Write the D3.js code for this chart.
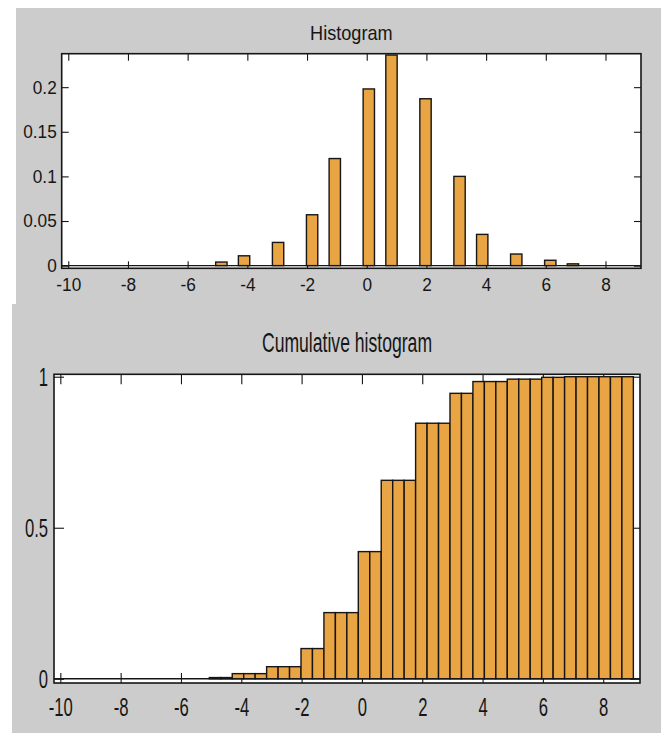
<!DOCTYPE html>
<html>
<head>
<meta charset="utf-8">
<script src="https://cdn.jsdelivr.net/npm/d3@7"></script>
<style>
  body { margin: 0; background: #fff; }
  svg { display: block; font-family: "Liberation Sans", Arial, sans-serif; }
</style>
</head>
<body>
<div id="chart"></div>
<script>
// bin centres of the 50 histogram bins (width 0.38, from -10 to 9)
const binCenters = [
  -9.81, -9.43, -9.05, -8.67, -8.29, -7.91, -7.53, -7.15, -6.77, -6.39,
  -6.01, -5.63, -5.25, -4.87, -4.49, -4.11, -3.73, -3.35, -2.97, -2.59,
  -2.21, -1.83, -1.45, -1.07, -0.69, -0.31, 0.07, 0.45, 0.83, 1.21,
  1.59, 1.97, 2.35, 2.73, 3.11, 3.49, 3.87, 4.25, 4.63, 5.01,
  5.39, 5.77, 6.15, 6.53, 6.91, 7.29, 7.67, 8.05, 8.43, 8.81
];
const binWidth = 0.38;

const frequency = [
  0, 0, 0, 0, 0, 0, 0, 0, 0, 0,
  0, 0, 0, 0.004, 0, 0.011, 0, 0, 0.026, 0,
  0, 0.057, 0, 0.12, 0, 0, 0.198, 0, 0.236, 0,
  0, 0.187, 0, 0, 0.1, 0, 0.035, 0, 0, 0.013,
  0, 0, 0.006, 0, 0.002, 0, 0, 0, 0, 0
];

const cumulative = [
  0, 0, 0, 0, 0, 0, 0, 0, 0, 0,
  0, 0, 0, 0.004, 0.004, 0.017, 0.017, 0.017, 0.04, 0.04,
  0.04, 0.1, 0.1, 0.219, 0.219, 0.219, 0.421, 0.421, 0.657, 0.657,
  0.657, 0.846, 0.846, 0.846, 0.945, 0.945, 0.984, 0.984, 0.984, 0.992,
  0.992, 0.992, 0.998, 0.998, 1, 1, 1, 1, 1, 1
];

const xTicks = [-10, -8, -6, -4, -2, 0, 2, 4, 6, 8];
const histYTicks = [0, 0.05, 0.1, 0.15, 0.2];
const cumYTicks = [0, 0.5, 1];

const W = 661, H = 733;
const barFill = '#e9a443';
const ink = '#161616';

const svg = d3.select('#chart').append('svg')
  .attr('width', W)
  .attr('height', H)
  .attr('viewBox', `0 0 ${W} ${H}`);

function drawPanel(cfg) {
  const { panel, box, values, xDomain, yDomain, yTicks, title, fontSize, titleSize, sx, tickLen, xPad, yPad, titleY } = cfg;

  svg.append('rect')
    .attr('x', panel.x).attr('y', panel.y)
    .attr('width', panel.w).attr('height', panel.h)
    .attr('fill', '#cccccc');

  svg.append('rect')
    .attr('x', box.left).attr('y', box.top)
    .attr('width', box.right - box.left).attr('height', box.bottom - box.top)
    .attr('fill', '#fff');

  const x = d3.scaleLinear().domain(xDomain).range([box.left, box.right]);
  const y = d3.scaleLinear().domain(yDomain).range([box.bottom, box.top]);

  const styleAxis = (g) => {
    g.attr('font-family', null).attr('font-size', null);
    g.select('.domain').remove();
    g.selectAll('.tick line').attr('stroke', ink).attr('stroke-width', 1.1);
    g.selectAll('.tick text')
      .attr('fill', ink)
      .attr('font-size', fontSize)
      .attr('transform', `scale(${sx},1)`);
  };

  // ticks sit underneath the bars (MATLAB layer bottom)
  svg.append('g')
    .attr('transform', `translate(0,${box.bottom})`)
    .call(d3.axisBottom(x).tickValues(xTicks).tickSizeInner(-tickLen).tickSizeOuter(0)
      .tickPadding(xPad).tickFormat((d) => String(d)))
    .call(styleAxis);

  svg.append('g')
    .attr('transform', `translate(0,${box.top})`)
    .call(d3.axisTop(x).tickValues(xTicks).tickSizeInner(-tickLen).tickSizeOuter(0).tickFormat(''))
    .call(styleAxis);

  svg.append('g')
    .attr('transform', `translate(${box.left},0)`)
    .call(d3.axisLeft(y).tickValues(yTicks).tickSizeInner(-tickLen).tickSizeOuter(0)
      .tickPadding(yPad).tickFormat((d) => String(d)))
    .call(styleAxis)
    .call((g) => g.selectAll('.tick text').attr('x', -yPad / sx));

  svg.append('g')
    .attr('transform', `translate(${box.right},0)`)
    .call(d3.axisRight(y).tickValues(yTicks).tickSizeInner(-tickLen).tickSizeOuter(0).tickFormat(''))
    .call(styleAxis);

  svg.append('g')
    .selectAll('rect')
    .data(values.map((v, i) => ({ c: binCenters[i], v })))
    .join('rect')
    .attr('x', (d) => x(d.c - binWidth / 2))
    .attr('width', (d) => x(d.c + binWidth / 2) - x(d.c - binWidth / 2))
    .attr('y', (d) => y(d.v))
    .attr('height', (d) => y(0) - y(d.v))
    .attr('fill', barFill)
    .attr('stroke', ink)
    .attr('stroke-width', 1.4);

  // bar baseline at zero
  svg.append('line')
    .attr('x1', box.left).attr('x2', box.right)
    .attr('y1', y(0)).attr('y2', y(0))
    .attr('stroke', ink)
    .attr('stroke-width', 1.4);

  svg.append('rect')
    .attr('x', box.left).attr('y', box.top)
    .attr('width', box.right - box.left).attr('height', box.bottom - box.top)
    .attr('fill', 'none')
    .attr('stroke', ink)
    .attr('stroke-width', 1.6);

  svg.append('text')
    .attr('transform', `translate(${(box.left + box.right) / 2},${titleY}) scale(${sx},1)`)
    .attr('text-anchor', 'middle')
    .attr('font-size', titleSize)
    .attr('fill', ink)
    .text(title);
}

drawPanel({
  panel: { x: 16, y: 8, w: 645, h: 296 },
  box: { left: 61.7, right: 641, top: 53.7, bottom: 268.3 },
  values: frequency,
  xDomain: [-10.22, 9.19],
  yDomain: [-0.003, 0.2375],
  yTicks: histYTicks,
  title: 'Histogram',
  fontSize: 18.5,
  titleSize: 19.5,
  sx: 0.93,
  tickLen: 7,
  xPad: 10,
  yPad: 5,
  titleY: 39.5
});

drawPanel({
  panel: { x: 12, y: 304, w: 649, h: 429 },
  box: { left: 54, right: 640, top: 374.3, bottom: 683 },
  values: cumulative,
  xDomain: [-10.21, 9.22],
  yDomain: [-0.014, 1.008],
  yTicks: cumYTicks,
  title: 'Cumulative histogram',
  fontSize: 26,
  titleSize: 27.5,
  sx: 0.64,
  tickLen: 10,
  xPad: 15,
  yPad: 6,
  titleY: 351.7
});
</script>
</body>
</html>
